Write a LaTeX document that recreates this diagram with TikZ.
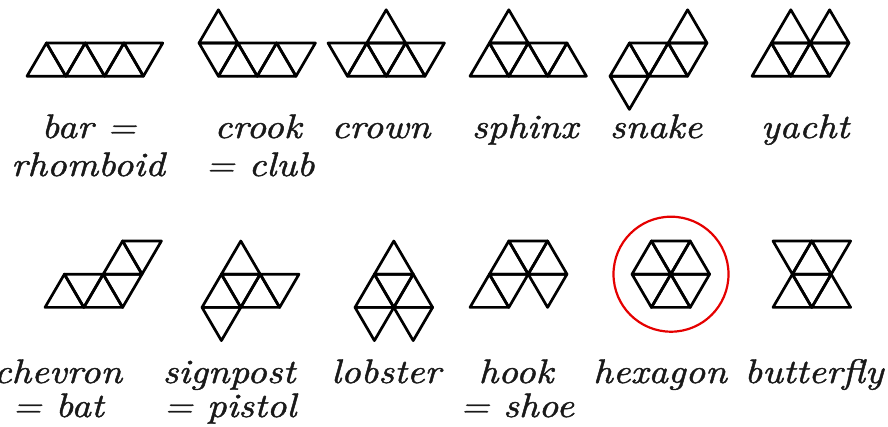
\documentclass[tikz,border=0pt]{standalone}
\usepackage{fontspec}
\usepackage{graphicx}
\newfontfamily\labfont{lmroman10-italic.otf}[FakeBold=1.2]
\tikzset{
  tri/.style={line width=2.7pt, line join=round, line cap=round, black},
  lab/.style={anchor=base, inner sep=0pt, font=\fontsize{34}{40}\selectfont\labfont, text=black!90},
  lattice/.style={x=19.4pt, y=-33.2pt}
}
\newcommand\triU[2]{\draw[tri] ({#1},{#2+1}) -- ({#1+2},{#2+1}) -- ({#1+1},{#2}) -- cycle;}
\newcommand\triD[2]{\draw[tri] ({#1},{#2}) -- ({#1+2},{#2}) -- ({#1+1},{#2+1}) -- cycle;}
\newcommand\wid[1]{\scalebox{1.13}[1]{#1}}
\begin{document}
\begin{tikzpicture}[x=1pt, y=-1pt]
\useasboundingbox (0,0) rectangle (888,427);
% bar
\begin{scope}[shift={(27,43)}, lattice]
\triU{0}{0}\triD{1}{0}\triU{2}{0}\triD{3}{0}\triU{4}{0}\triD{5}{0}
\end{scope}
% crook
\begin{scope}[shift={(199,43)}, lattice]
\triU{0}{-1}\triD{0}{0}\triU{1}{0}\triD{2}{0}\triU{3}{0}\triD{4}{0}
\end{scope}
% crown
\begin{scope}[shift={(328,43)}, lattice]
\triU{2}{-1}\triD{0}{0}\triU{1}{0}\triD{2}{0}\triU{3}{0}\triD{4}{0}
\end{scope}
% sphinx
\begin{scope}[shift={(470,43)}, lattice]
\triU{1}{-1}\triU{0}{0}\triD{1}{0}\triU{2}{0}\triD{3}{0}\triU{4}{0}
\end{scope}
% snake
\begin{scope}[shift={(610,43)}, lattice]
\triU{3}{-1}\triU{0}{0}\triD{1}{0}\triU{2}{0}\triD{3}{0}\triD{0}{1}
\end{scope}
% yacht
\begin{scope}[shift={(752,43)}, lattice]
\triU{1}{-1}\triU{3}{-1}\triU{0}{0}\triD{1}{0}\triU{2}{0}\triD{3}{0}
\end{scope}
% chevron
\begin{scope}[shift={(45,241)}, lattice]
\triU{0}{1}\triD{1}{1}\triU{2}{1}\triD{3}{1}\triU{3}{0}\triD{4}{0}
\end{scope}
% signpost
\begin{scope}[shift={(202,241)}, lattice]
\triU{1}{0}\triU{0}{1}\triD{1}{1}\triU{2}{1}\triD{3}{1}\triD{0}{2}
\end{scope}
% lobster
\begin{scope}[shift={(355,241)}, lattice]
\triU{1}{0}\triU{0}{1}\triD{1}{1}\triU{2}{1}\triD{0}{2}\triD{2}{2}
\end{scope}
% hook
\begin{scope}[shift={(470,241)}, lattice]
\triU{1}{0}\triD{2}{0}\triU{3}{0}\triU{0}{1}\triD{1}{1}\triD{3}{1}
\end{scope}
% hexagon
\begin{scope}[shift={(632,241)}, lattice]
\triU{0}{0}\triD{1}{0}\triU{2}{0}\triD{0}{1}\triU{1}{1}\triD{2}{1}
\end{scope}
\draw[line width=2.2pt, red!90!black] (671,274.2) circle (57.5);
% butterfly
\begin{scope}[shift={(773,241)}, lattice]
\triD{0}{0}\triU{1}{0}\triD{2}{0}\triU{0}{1}\triD{1}{1}\triU{2}{1}
\end{scope}
% labels row 1
\node[lab] (l1a) at (89,138) {\wid{bar =}};
\node[lab] (l1b) at (88,176) {\wid{rhomboid}};
\node[lab] (l2a) at (258,138) {\wid{crook}};
\node[lab] (l2b) at (260,176) {\wid{= club}};
\node[lab] (l3) at (381,138) {\wid{crown}};
\node[lab] (l4) at (525,138) {\wid{sphinx}};
\node[lab] (l5) at (656,138) {\wid{snake}};
\node[lab] (l6) at (805,138) {\wid{yacht}};
% labels row 2
\node[lab] (l7a) at (58,383) {\wid{chevron}};
\node[lab] (l7b) at (58,417) {\wid{= bat}};
\node[lab] (l8a) at (229,383) {\wid{signpost}};
\node[lab] (l8b) at (230,417) {\wid{= pistol}};
\node[lab] (l9) at (386,383) {\wid{lobster}};
\node[lab] (l10a) at (516,383) {\wid{hook}};
\node[lab] (l10b) at (517,417) {\wid{= shoe}};
\node[lab] (l11) at (660,383) {\wid{hexagon}};
\node[lab] (l12) at (814,383) {\wid{butterfly}};
\end{tikzpicture}
\end{document}
